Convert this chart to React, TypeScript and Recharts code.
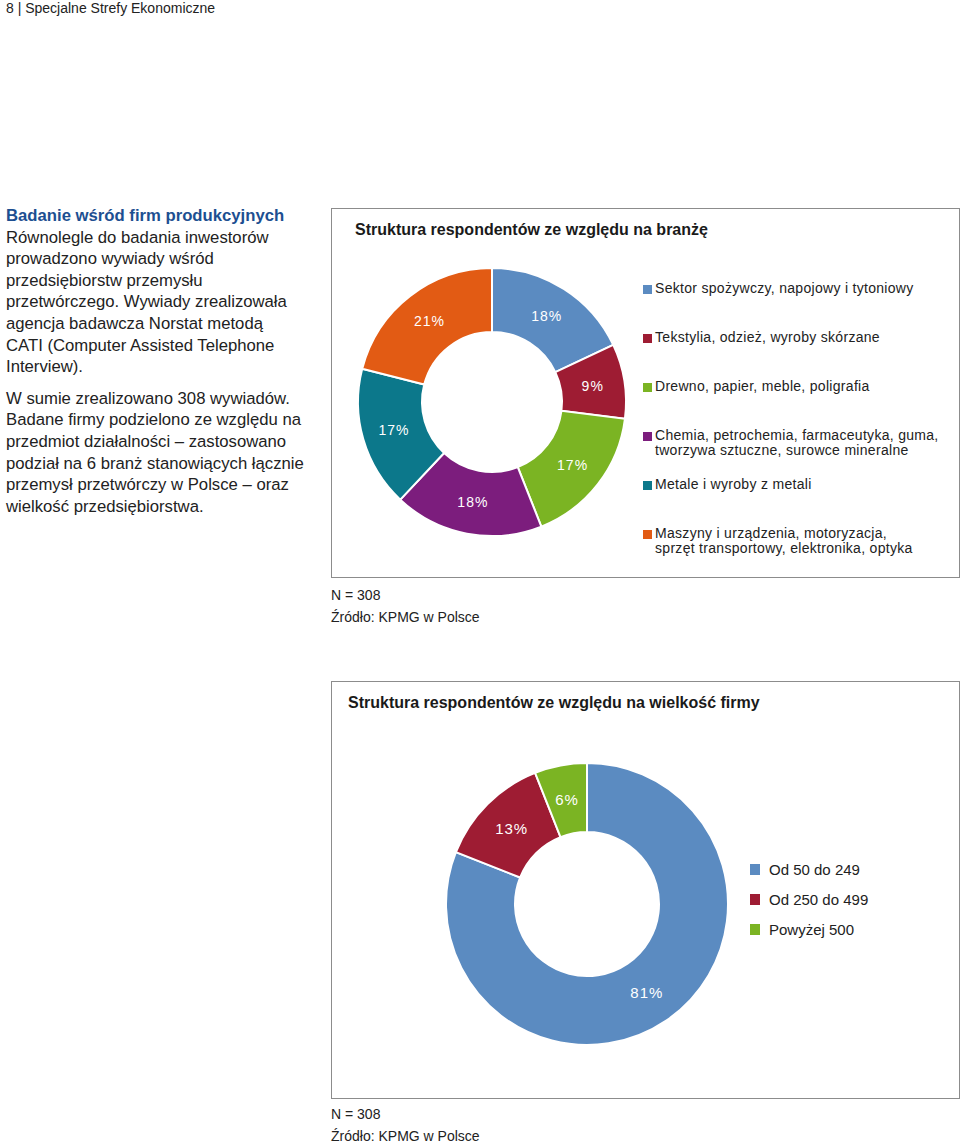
import React from 'react';
import { PieChart, Pie, Cell, Legend } from 'recharts';

const FONT = '"Liberation Sans", Arial, sans-serif';

// chart 1: industry structure
const industryNames = [
  'Sektor spożywczy, napojowy i tytoniowy',
  'Tekstylia, odzież, wyroby skórzane',
  'Drewno, papier, meble, poligrafia',
  'Chemia, petrochemia, farmaceutyka, guma,\ntworzywa sztuczne, surowce mineralne',
  'Metale i wyroby z metali',
  'Maszyny i urządzenia, motoryzacja,\nsprzęt transportowy, elektronika, optyka',
];
const industryShares = [18, 9, 17, 18, 17, 21];
const industryColors = ['#5b8bc1', '#9e1c33', '#7bb423', '#7c1d7d', '#0c788b', '#e25b14'];

// chart 2: company size
const sizeNames = ['Od 50 do 249', 'Od 250 do 499', 'Powyżej 500'];
const sizeShares = [81, 13, 6];
const sizeColors = ['#5b8bc1', '#9e1c33', '#7bb423'];

const introText = [
  'Równolegle do badania inwestorów',
  'prowadzono wywiady wśród',
  'przedsiębiorstw przemysłu',
  'przetwórczego. Wywiady zrealizowała',
  'agencja badawcza Norstat metodą',
  'CATI (Computer Assisted Telephone',
  'Interview).',
];
const introText2 = [
  'W sumie zrealizowano 308 wywiadów.',
  'Badane firmy podzielono ze względu na',
  'przedmiot działalności – zastosowano',
  'podział na 6 branż stanowiących łącznie',
  'przemysł przetwórczy w Polsce – oraz',
  'wielkość przedsiębiorstwa.',
];

const industryData = industryNames.map((name, i) => ({ name, value: industryShares[i] }));
const sizeData = sizeNames.map((name, i) => ({ name, value: sizeShares[i] }));

const RAD = Math.PI / 180;

const makeLabel = (fontSize: number) => (props: any) => {
  const { cx, cy, midAngle, innerRadius, outerRadius, value } = props;
  const r = (innerRadius + outerRadius) / 2;
  const x = cx + r * Math.cos(-midAngle * RAD);
  const y = cy + r * Math.sin(-midAngle * RAD);
  return (
    <text x={x} y={y} fill="#fff" textAnchor="middle" dominantBaseline="central" fontSize={fontSize} fontFamily={FONT} letterSpacing={1}>
      {value}%
    </text>
  );
};

const boxStyle: React.CSSProperties = {
  position: 'absolute',
  border: '1.5px solid #8c8c8c',
  boxSizing: 'border-box',
  background: '#fff',
};

const titleStyle: React.CSSProperties = {
  position: 'absolute',
  fontFamily: FONT,
  fontWeight: 'bold',
  fontSize: 16,
  color: '#1a1a1a',
  whiteSpace: 'nowrap',
};

const noteStyle: React.CSSProperties = {
  position: 'absolute',
  fontFamily: FONT,
  fontSize: 14,
  color: '#222',
  lineHeight: '22px',
  whiteSpace: 'nowrap',
};

function IndustryLegend() {
  return (
    <div style={{ fontFamily: FONT, fontSize: 14, letterSpacing: 0.3, color: '#222' }}>
      {industryNames.map((name, i) => (
        <div key={name} style={{ height: 49, display: 'flex', alignItems: 'flex-start' }}>
          <span style={{ width: 9, height: 9, background: industryColors[i], marginTop: 4, marginRight: 3, flexShrink: 0 }} />
          <span style={{ lineHeight: '15px', whiteSpace: 'pre' }}>{name}</span>
        </div>
      ))}
    </div>
  );
}

function SizeLegend() {
  return (
    <div style={{ fontFamily: FONT, fontSize: 15, color: '#222' }}>
      {sizeNames.map((name, i) => (
        <div key={name} style={{ height: 30, display: 'flex', alignItems: 'center' }}>
          <span style={{ width: 10, height: 11, background: sizeColors[i], marginRight: 9, flexShrink: 0 }} />
          <span style={{ whiteSpace: 'nowrap' }}>{name}</span>
        </div>
      ))}
    </div>
  );
}

export default function App() {
  return (
    <div style={{ position: 'absolute', left: 0, top: 0, width: 960, height: 1143, background: '#fff', overflow: 'hidden' }}>
      <div style={{ position: 'absolute', left: 6, top: 0, fontFamily: FONT, fontSize: 14, lineHeight: '16px', color: '#222' }}>
        8 | Specjalne Strefy Ekonomiczne
      </div>

      <div style={{ position: 'absolute', left: 6, top: 205, fontFamily: FONT, fontSize: 16.7, lineHeight: '21.6px', color: '#222' }}>
        <div style={{ fontWeight: 'bold', color: '#1d4f91' }}>Badanie wśród firm produkcyjnych</div>
        {introText.map((t) => (
          <div key={t}>{t}</div>
        ))}
        <div style={{ height: 10 }} />
        {introText2.map((t) => (
          <div key={t}>{t}</div>
        ))}
      </div>

      {/* chart 1 */}
      <div style={{ ...boxStyle, left: 331, top: 208, width: 629, height: 370 }}>
        <div style={{ ...titleStyle, left: 23, top: 12 }}>Struktura respondentów ze względu na branżę</div>
        <PieChart width={626} height={367} style={{ position: 'absolute', left: 0, top: 0 }}>
          <Pie
            data={industryData}
            dataKey="value"
            nameKey="name"
            cx={155}
            cy={188}
            innerRadius={70}
            outerRadius={134}
            startAngle={90}
            endAngle={-270}
            stroke="#fff"
            strokeWidth={2}
            label={makeLabel(14)}
            labelLine={false}
            isAnimationActive={false}
          >
            {industryData.map((d, i) => (
              <Cell key={d.name} fill={industryColors[i]} />
            ))}
          </Pie>
          <Legend
            layout="vertical"
            content={() => <IndustryLegend />}
            wrapperStyle={{ left: 311, top: 72, width: 312, bottom: 'auto' }}
          />
        </PieChart>
      </div>
      <div style={{ ...noteStyle, left: 331, top: 584 }}>
        N = 308
        <br />
        Źródło: KPMG w Polsce
      </div>

      {/* chart 2 */}
      <div style={{ ...boxStyle, left: 331, top: 681, width: 629, height: 418 }}>
        <div style={{ ...titleStyle, left: 16, top: 12 }}>Struktura respondentów ze względu na wielkość firmy</div>
        <PieChart width={626} height={415} style={{ position: 'absolute', left: 0, top: 0 }}>
          <Pie
            data={sizeData}
            dataKey="value"
            nameKey="name"
            cx={250}
            cy={217}
            innerRadius={72}
            outerRadius={141}
            startAngle={90}
            endAngle={-270}
            stroke="#fff"
            strokeWidth={2}
            label={makeLabel(15)}
            labelLine={false}
            isAnimationActive={false}
          >
            {sizeData.map((d, i) => (
              <Cell key={d.name} fill={sizeColors[i]} />
            ))}
          </Pie>
          <Legend
            layout="vertical"
            content={() => <SizeLegend />}
            wrapperStyle={{ left: 418, top: 172, width: 200, bottom: 'auto' }}
          />
        </PieChart>
      </div>
      <div style={{ ...noteStyle, left: 331, top: 1103 }}>
        N = 308
        <br />
        Źródło: KPMG w Polsce
      </div>
    </div>
  );
}
